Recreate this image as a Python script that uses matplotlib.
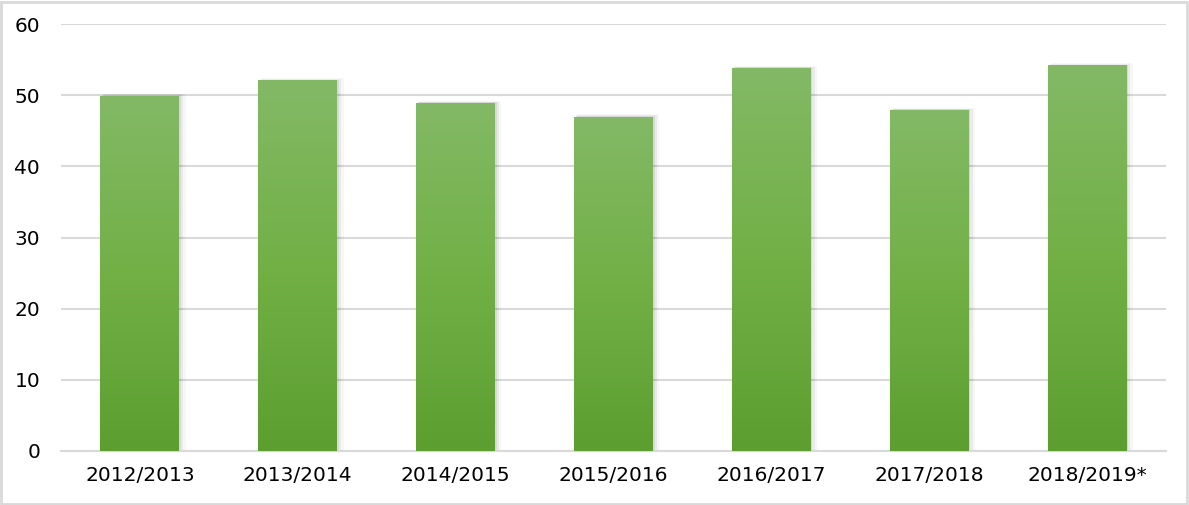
import numpy as np
import matplotlib.pyplot as plt
from matplotlib.colors import LinearSegmentedColormap

# Dados
seasons = ['2012/2013', '2013/2014', '2014/2015', '2015/2016',
           '2016/2017', '2017/2018', '2018/2019*']
values = [49.9, 52.1, 48.9, 47.0, 53.8, 47.9, 54.2]

plt.rcParams['font.family'] = ['DejaVu Sans']

fig = plt.figure(figsize=(11.89, 5.05), dpi=100)
ax = fig.add_axes([61 / 1189, 1 - 451 / 505, (1166 - 61) / 1189, (451 - 24) / 505])

x = np.arange(len(seasons))
width = 0.5

# sombra leve
for k, a in enumerate([0.07, 0.05, 0.03]):
    off = 0.01 * (k + 1)
    ax.bar(x + off, np.array(values) + 0.1 * (k + 1), width=width + 0.01 * k,
           color='black', alpha=a, zorder=2, linewidth=0)

bars = ax.bar(x, values, width=width, color='#70ad47', zorder=3, linewidth=0)

# gradiente vertical
cmap = LinearSegmentedColormap.from_list('g', ['#5c9e30', '#72b046', '#83b966'])
grad = np.linspace(0, 1, 256).reshape(-1, 1)
for b in bars:
    im = ax.imshow(grad, cmap=cmap, origin='lower', aspect='auto',
                   extent=[b.get_x(), b.get_x() + b.get_width(), 0, b.get_height()],
                   zorder=4)
    im.set_clip_path(b)

ax.set_xlim(-0.5, len(seasons) - 0.5)
ax.set_ylim(0, 60)
ax.set_yticks(range(0, 61, 10))
ax.set_xticks(x)
ax.set_xticklabels(seasons)
ax.yaxis.grid(True, color='#d9d9d9', linewidth=1.5, zorder=0)
ax.set_axisbelow(True)
for s in ['top', 'right', 'left']:
    ax.spines[s].set_visible(False)
ax.spines['bottom'].set_color('#d9d9d9')
ax.spines['bottom'].set_linewidth(1.5)
ax.tick_params(length=0, labelsize=14.5, colors='black')
ax.tick_params(axis='y', pad=15)
ax.tick_params(axis='x', pad=11)

# moldura
fig.patches.append(plt.Rectangle((0.001, 0.002), 0.997, 0.995, transform=fig.transFigure,
                                 fill=False, edgecolor='#d9d9d9', linewidth=2))

fig.savefig('out.png', dpi=100)
